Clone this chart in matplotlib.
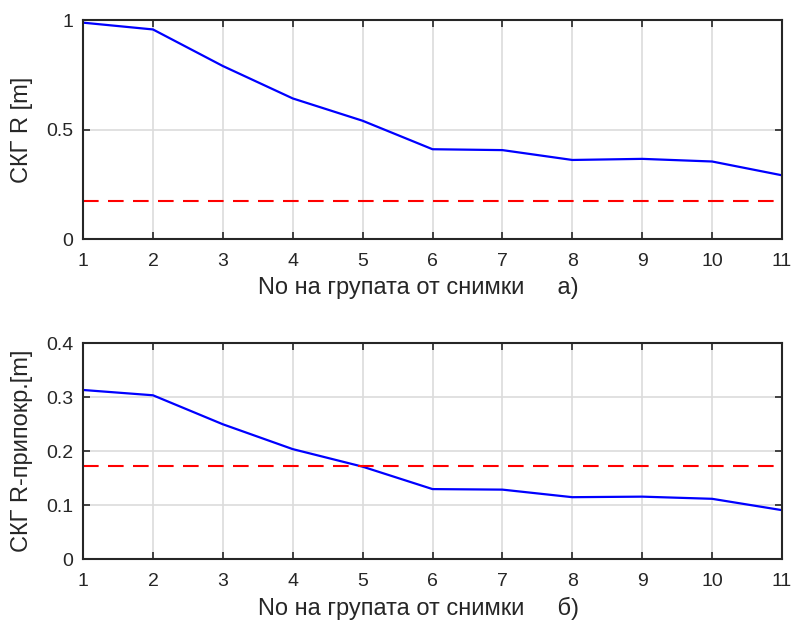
import matplotlib.pyplot as plt
import numpy as np

plt.rcParams['font.family'] = ['Liberation Sans', 'DejaVu Sans']
plt.rcParams['font.size'] = 14

groups = np.arange(1, 12)
skg_r = [0.988, 0.957, 0.790, 0.642, 0.540, 0.410, 0.406, 0.361, 0.366, 0.354, 0.291]
skg_overlap = [0.3135, 0.3037, 0.250, 0.204, 0.1715, 0.130, 0.129, 0.115, 0.116, 0.112, 0.091]
limit_r = 0.172
limit_overlap = 0.173

xlab_a = 'No на групата от снимки     а)'
xlab_b = 'No на групата от снимки     б)'

fig = plt.figure(figsize=(7.91, 6.28), dpi=100)
ax1 = fig.add_axes([0.105, 0.6194, 0.8836, 0.3487])
ax2 = fig.add_axes([0.105, 0.1094, 0.8836, 0.344])

def style(ax):
    ax.grid(True, color='#dcdcdc', linewidth=1.2)
    ax.set_axisbelow(True)
    for s in ax.spines.values():
        s.set_color('#262626')
        s.set_linewidth(1.5)
    ax.tick_params(direction='in', length=5, width=1.2, colors='#262626',
                   top=True, right=True, labelsize=14)
    ax.tick_params(axis='x', pad=10)
    ax.tick_params(axis='y', pad=7)
    ax.set_xlim(1, 11)
    ax.set_xticks(groups)

ax1.plot(groups, skg_r, color='blue', linewidth=1.6)
ax1.axhline(limit_r, color='red', linestyle=(0, (7.5, 4.5)), linewidth=1.5)
style(ax1)
ax1.set_ylim(0, 1)
ax1.set_yticks([0, 0.5, 1])
ax1.set_yticklabels(['0', '0.5', '1'])
ax1.set_ylabel('СКГ R [m]', fontsize=17, color='#262626')
ax1.set_xlabel(xlab_a, fontsize=17, color='#262626')
ax1.yaxis.set_label_coords(-0.072, 0.5)
ax1.xaxis.set_label_coords(0.48, -0.172)

ax2.plot(groups, skg_overlap, color='blue', linewidth=1.6)
ax2.axhline(limit_overlap, color='red', linestyle=(0, (7.5, 4.5)), linewidth=1.5)
style(ax2)
ax2.set_ylim(0, 0.4)
ax2.set_yticks([0, 0.1, 0.2, 0.3, 0.4])
ax2.set_yticklabels(['0', '0.1', '0.2', '0.3', '0.4'])
ax2.set_ylabel('СКГ R-припокр.[m]', fontsize=17, color='#262626')
ax2.set_xlabel(xlab_b, fontsize=17, color='#262626')
ax2.yaxis.set_label_coords(-0.072, 0.5)
ax2.xaxis.set_label_coords(0.48, -0.175)

plt.savefig('out.png', dpi=100)
